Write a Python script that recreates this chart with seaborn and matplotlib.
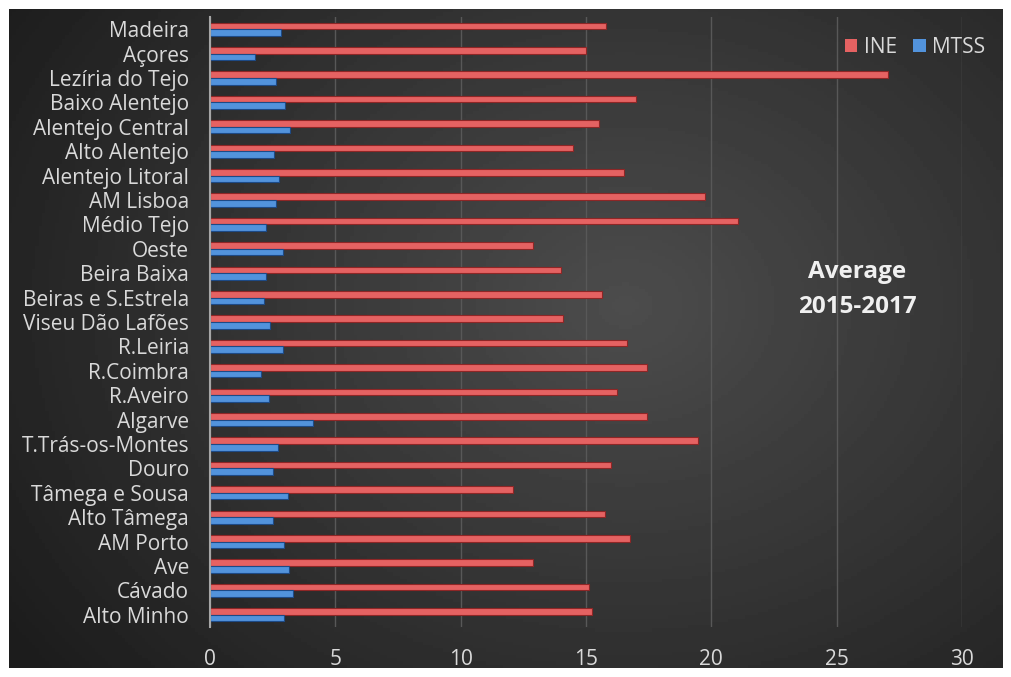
import numpy as np
import pandas as pd
import matplotlib
matplotlib.use("Agg")
import matplotlib.pyplot as plt
import seaborn as sns

REGIONS = [
    "Madeira", "Açores", "Lezíria do Tejo", "Baixo Alentejo", "Alentejo Central",
    "Alto Alentejo", "Alentejo Litoral", "AM Lisboa", "Médio Tejo", "Oeste",
    "Beira Baixa", "Beiras e S.Estrela", "Viseu Dão Lafões", "R.Leiria", "R.Coimbra",
    "R.Aveiro", "Algarve", "T.Trás-os-Montes", "Douro", "Tâmega e Sousa",
    "Alto Tâmega", "AM Porto", "Ave", "Cávado", "Alto Minho",
]
INE = [15.8, 15.0, 27.05, 17.0, 15.5, 14.5, 16.5, 19.75, 21.05, 12.9,
       14.0, 15.65, 14.1, 16.65, 17.45, 16.25, 17.45, 19.45, 16.0, 12.1,
       15.75, 16.75, 12.9, 15.1, 15.25]
MTSS = [2.85, 1.8, 2.65, 3.0, 3.2, 2.55, 2.75, 2.65, 2.25, 2.9,
        2.25, 2.15, 2.4, 2.9, 2.05, 2.35, 4.1, 2.7, 2.5, 3.1,
        2.5, 2.95, 3.15, 3.3, 2.95]
SERIES = ["INE", "MTSS"]
COLORS = {"INE": "#e56262", "MTSS": "#5293dc"}
EDGES = {"INE": "#8e2626", "MTSS": "#1d4a86"}
TXT = "#d9d9d9"
FONT = ["Open Sans", "DejaVu Sans"]

df = pd.DataFrame({"Region": REGIONS * 2,
                   "Source": ["INE"] * len(REGIONS) + ["MTSS"] * len(REGIONS),
                   "Value": INE + MTSS})

W, H = 1011, 677
fig = plt.figure(figsize=(W / 100, H / 100), dpi=100)
fig.patch.set_facecolor("white")

# chart area background (radial-ish grey gradient)
bg = fig.add_axes([9 / W, 1 - 668 / H, (1003 - 9) / W, (668 - 9) / H])
yy, xx = np.mgrid[0:1:200j, 0:1:300j]
r = np.sqrt(((xx - 0.62) / 0.75) ** 2 + ((yy - 0.45) / 0.9) ** 2)
shade = np.clip(0.30 - 0.19 * r, 0.11, 0.30)
bg.imshow(shade, cmap="gray", vmin=0, vmax=1, aspect="auto", extent=[0, 1, 0, 1])
bg.set_axis_off()

ax = fig.add_axes([210 / W, 1 - 627 / H, (962 - 210) / W, (627 - 17) / H])
ax.patch.set_alpha(0)
sns.barplot(data=df, y="Region", x="Value", hue="Source", hue_order=SERIES,
            order=REGIONS, orient="h", palette=COLORS, width=0.54, ax=ax,
            linewidth=0.8, saturation=1)
for cont, s in zip(ax.containers, SERIES):
    for p in cont.patches:
        p.set_edgecolor(EDGES[s])

ax.set_xlim(0, 30)
ax.set_xticks(range(0, 31, 5))
ax.set_ylim(len(REGIONS) - 0.5, -0.5)
ax.set_xlabel("")
ax.set_ylabel("")
ax.grid(axis="x", color="#585858", linewidth=1)
ax.grid(axis="y", visible=False)
ax.set_axisbelow(True)
for side in ["top", "right", "bottom"]:
    ax.spines[side].set_visible(False)
ax.spines["left"].set_color("#a6a6a6")
ax.spines["left"].set_linewidth(1.5)
ax.tick_params(axis="both", length=0, colors=TXT, labelsize=15)
ax.tick_params(axis="x", pad=16)
ax.tick_params(axis="y", pad=15)
for lab in ax.get_xticklabels() + ax.get_yticklabels():
    lab.set_fontfamily(FONT)

leg = ax.legend(loc="upper right", bbox_to_anchor=(1004 / W, 1 - 18 / H),
                bbox_transform=fig.transFigure, ncol=2, frameon=False,
                handlelength=0.6, handleheight=0.6, handletextpad=0.3,
                columnspacing=0.8, prop={"family": FONT, "size": 15})
for t in leg.get_texts():
    t.set_color(TXT)

fig.text(857 / W, 1 - 272 / H, "Average", ha="center", va="center",
         color="#f0f0f0", fontsize=17.5, fontweight="bold", family=FONT)
fig.text(857 / W, 1 - 307 / H, "2015-2017", ha="center", va="center",
         color="#f0f0f0", fontsize=17.5, fontweight="bold", family=FONT)

fig.savefig("out.png", dpi=100, facecolor=fig.get_facecolor())
